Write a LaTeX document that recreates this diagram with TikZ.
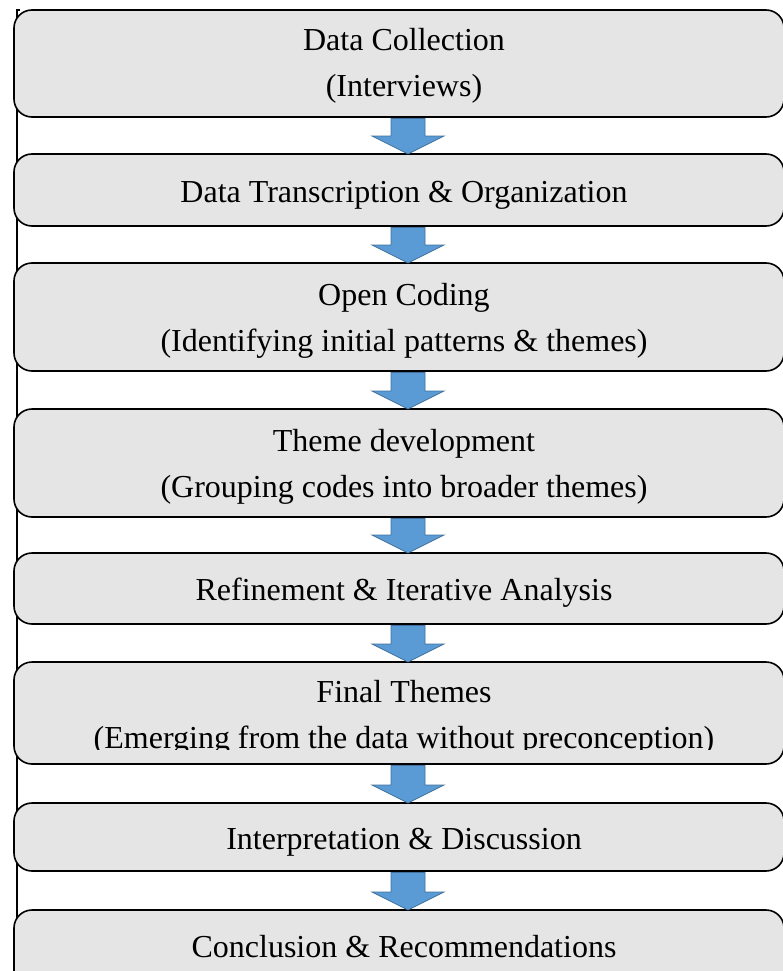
\documentclass[tikz,border=0pt]{standalone}
\usepackage{fontspec}
\setmainfont{Liberation Serif}
\usetikzlibrary{calc}
\definecolor{boxfill}{RGB}{229,229,229}
\definecolor{arrowfill}{RGB}{91,155,213}
\definecolor{arrowline}{RGB}{65,113,156}
\tikzset{
  stagebox/.style={draw=black, line width=1.6pt, fill=boxfill, rounded corners=18pt,
    rectangle, inner sep=0pt, outer sep=0pt, minimum width=770pt},
  stagetext/.style={align=center, inner sep=0pt, font=\fontsize{32}{46}\selectfont},
  flowarrow/.style={fill=arrowfill, draw=arrowline, line width=0.8pt, line join=miter},
}
% block arrow from the bottom of one stage to the top of the next
\newcommand\stagearrow[2]{%
  \path[flowarrow] let \p1=(#1.south), \p2=(#2.north) in
    (391pt,\y1-1.5pt) -- (425pt,\y1-1.5pt) -- (425pt,\y2+18pt) -- (444pt,\y2+18pt)
    -- (408pt,\y2) -- (372pt,\y2+18pt) -- (391pt,\y2+18pt) -- cycle;}
\begin{document}
\begin{tikzpicture}[x=1pt, y=-1pt]
\useasboundingbox (0,0) rectangle (783,971);

% left frame line
\draw[line width=1.4pt] (20,10) -- (17,10) -- (17,980);

% stage boxes
\node[stagebox, minimum height=107pt] (b1) at (399,63.5) {};
\node[stagebox, minimum height=72pt]  (b2) at (399,190) {};
\node[stagebox, minimum height=108pt] (b3) at (399,317) {};
\node[stagebox, minimum height=108pt] (b4) at (399,463) {};
\node[stagebox, minimum height=71pt]  (b5) at (399,588.5) {};
\node[stagebox, minimum height=102pt] (b6) at (399,713) {};
\node[stagebox, minimum height=68pt]  (b7) at (399,837) {};
\node[stagebox, minimum height=80pt]  (b8) at (399,950) {};

% stage labels
\node[stagetext] (t1) at (404,65.5) {Data Collection\\(Interviews)};
\node[stagetext] (t2) at (404,195) {Data Transcription \& Organization};
\node[stagetext] (t3) at (404,320.5) {Open Coding\\(Identifying initial patterns \& themes)};
\node[stagetext] (t4) at (404,467) {Theme development\\(Grouping codes into broader themes)};
\node[stagetext] (t5) at (404,593) {Refinement \& Iterative Analysis};
\begin{scope}
  \clip (14,662) rectangle (784,749);
  \node[stagetext] (t6) at (404,718) {Final Themes\\(Emerging from the data without preconception)};
\end{scope}
\node[stagetext] (t7) at (404,842) {Interpretation \& Discussion};
\node[stagetext] (t8) at (404,947) {Conclusion \& Recommendations};

% arrows between stages
\stagearrow{b1}{b2}
\stagearrow{b2}{b3}
\stagearrow{b3}{b4}
\stagearrow{b4}{b5}
\stagearrow{b5}{b6}
\stagearrow{b6}{b7}
\stagearrow{b7}{b8}
\end{tikzpicture}
\end{document}
